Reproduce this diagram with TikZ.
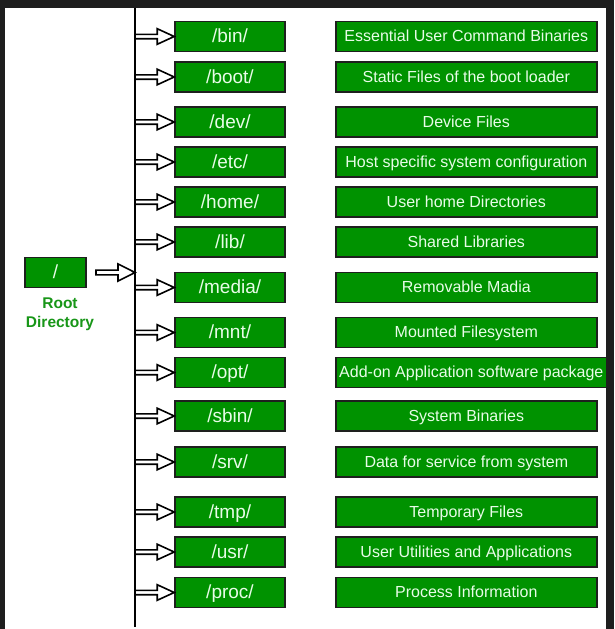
\documentclass[tikz,border=0pt]{standalone}
\usepackage{fontspec}
\setmainfont{Liberation Sans}
\usetikzlibrary{calc}

\definecolor{dirgreen}{RGB}{0,146,0}
\definecolor{boxedge}{RGB}{30,32,30}
\definecolor{boxtext}{RGB}{232,252,232}
\definecolor{framedark}{RGB}{30,30,30}
\definecolor{captiongreen}{RGB}{24,150,24}

\begin{document}
\begin{tikzpicture}[x=1pt,y=-1pt,
  dirbox/.style={draw=boxedge, line width=1.6pt, fill=dirgreen, text=boxtext,
    minimum height=30pt, inner sep=0pt},
  pathbox/.style={dirbox, minimum width=110pt, text height=16.1pt, text depth=3.8pt,
    font=\fontsize{19}{19}\selectfont},
  descbox/.style={dirbox, anchor=west, minimum width=261pt, text height=13.6pt,
    text depth=3.2pt, font=\fontsize{16}{16}\selectfont},
  rootcaption/.style={text=captiongreen, align=center, inner sep=0pt,
    font=\bfseries\fontsize{15.5}{19}\selectfont},
  % hollow block arrow: #1 shaft half height, #2 head half height, #3 head length
  blockarrow/.style n args={3}{draw=black, fill=white, line width=1.6pt,
    to path={let \p1=(\tikztostart), \p2=(\tikztotarget) in
      (\x1,\y1+#1) -- (\x2-#3,\y1+#1) -- (\x2-#3,\y1+#2) -- (\x2,\y1)
      -- (\x2-#3,\y1-#2) -- (\x2-#3,\y1-#1) -- (\x1,\y1-#1) -- cycle}},
  branch/.style={blockarrow={2.2pt}{7.8pt}{17pt}},
  rootarrow/.style={blockarrow={2.4pt}{8.6pt}{17pt}}
]
\useasboundingbox (0,0) rectangle (614,629);

% window frame and white canvas
\fill[framedark] (0,0) rectangle (614,629);
\fill[white] (5,8) rectangle (606,629);

% trunk line
\coordinate (trunktop) at (135,8);
\coordinate (trunkbot) at (135,627);
\draw[line width=1.8pt] (trunktop) -- (trunkbot);

% root directory
\node[pathbox, minimum width=61pt] (root) at (55.5,272.5) {/};
\node[rootcaption] (rootlbl) at (60,314.5) {Root\\Directory};
\coordinate (rootstart) at (96,272.5);
\coordinate (rootjoin) at (135,272.5);
\draw[rootarrow] (rootstart) to (rootjoin);

% directories
\node[pathbox] (bin)   at (230,36.5)  {/bin/};
\node[pathbox] (boot)  at (230,77)    {/boot/};
\node[pathbox] (dev)   at (230,122)   {/dev/};
\node[pathbox] (etc)   at (230,162)   {/etc/};
\node[pathbox] (home)  at (230,202)   {/home/};
\node[pathbox] (lib)   at (230,242)   {/lib/};
\node[pathbox] (media) at (230,287.5) {/media/};
\node[pathbox] (mnt)   at (230,332.5) {/mnt/};
\node[pathbox] (opt)   at (230,372.5) {/opt/};
\node[pathbox] (sbin)  at (230,416)   {/sbin/};
\node[pathbox] (srv)   at (230,462)   {/srv/};
\node[pathbox] (tmp)   at (230,512)   {/tmp/};
\node[pathbox] (usr)   at (230,552)   {/usr/};
\node[pathbox] (proc)  at (230,592.5) {/proc/};

% descriptions
\node[descbox] (bind)   at (335,36.5)  {Essential User Command Binaries};
\node[descbox] (bootd)  at (335,77)    {Static Files of the boot loader};
\node[descbox] (devd)   at (335,122)   {Device Files};
\node[descbox] (etcd)   at (335,162)   {Host specific system configuration};
\node[descbox] (homed)  at (335,202)   {User home Directories};
\node[descbox] (libd)   at (335,242)   {Shared Libraries};
\node[descbox] (mediad) at (335,287.5) {Removable Madia};
\node[descbox] (mntd)   at (335,332.5) {Mounted Filesystem};
\node[descbox, minimum width=271pt] (optd) at (335,372.5) {Add-on Application software package};
\node[descbox] (sbind)  at (335,416)   {System Binaries};
\node[descbox] (srvd)   at (335,462)   {Data for service from system};
\node[descbox] (tmpd)   at (335,512)   {Temporary Files};
\node[descbox] (usrd)   at (335,552)   {User Utilities and Applications};
\node[descbox] (procd)  at (335,592.5) {Process Information};

% branches from the trunk
\foreach \d in {bin,boot,dev,etc,home,lib,media,mnt,opt,sbin,srv,tmp,usr,proc}{
  \coordinate (t\d) at (trunktop |- \d.west);
  \draw[branch] (t\d) to (\d.west);
}
\end{tikzpicture}
\end{document}
